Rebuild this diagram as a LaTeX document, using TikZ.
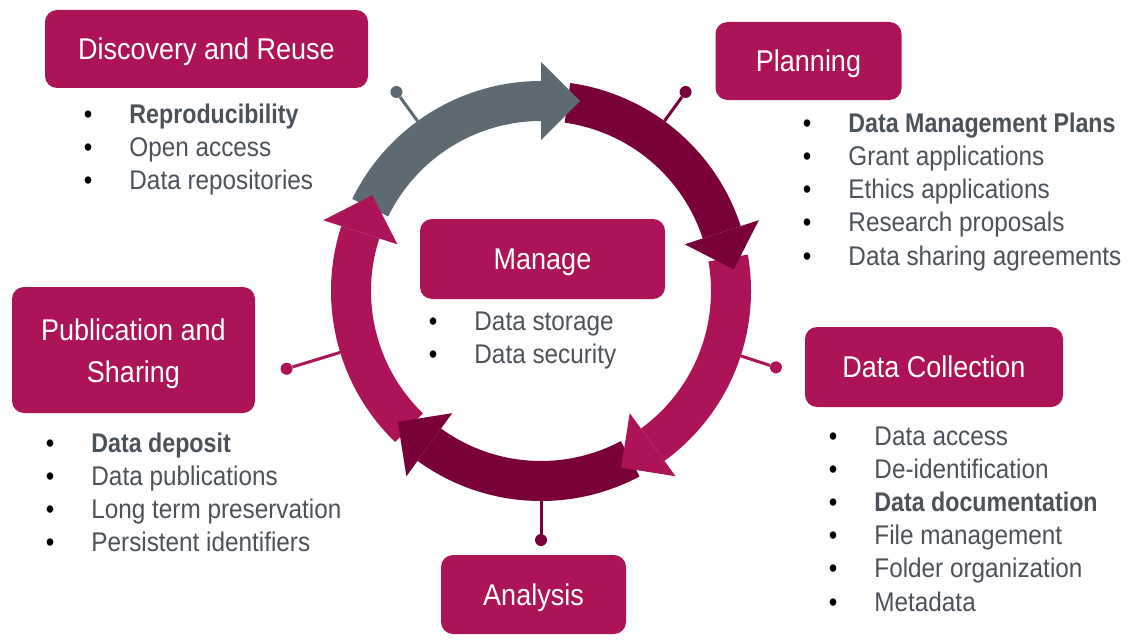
\documentclass[tikz,border=0pt]{standalone}
\usepackage{fontspec}
\setmainfont{Liberation Sans}[UprightFeatures={FakeStretch=0.9},
  BoldFeatures={FakeStretch=0.86}]

\definecolor{rdmpink}{HTML}{AD1457}
\definecolor{rdmdark}{HTML}{7A0038}
\definecolor{rdmgrey}{HTML}{5E6A71}
\definecolor{rdmtext}{HTML}{4B5259}

\tikzset{
  stage/.style={fill=rdmpink, rounded corners=12pt, text=white, inner sep=0pt,
    font=\fontsize{30}{42}\selectfont},
  onerow/.style={text height=21.5pt, text depth=0pt},
  item/.style={anchor=base west, inner sep=0pt, text=rdmtext,
    font=\fontsize{27}{33.3}\selectfont},
  pinline/.style={line width=3pt},
  pindot/.style={circle, inner sep=0pt, minimum size=12pt},
}
\newcommand{\bul}{\makebox[45.5pt][l]{\textcolor{black}{\textbullet}}}

\begin{document}
\begin{tikzpicture}[x=1pt, y=1pt]
  \useasboundingbox (0,0) rectangle (1130,-642);
  %% the cycle
  \begin{scope}[shift={(541,-291)}]
    \foreach \a/\b/\c in {154/90/rdmgrey, 82/18/rdmdark, 10/-54/rdmpink,
                          -62/-126/rdmdark, -134/-198/rdmpink} {
      \fill[\c] (\a:210) arc[start angle=\a, end angle=\b, radius=210]
        -- (\b:170) arc[start angle=\b, end angle=\a, radius=170] -- cycle;
    }
    \foreach \b/\c in {90/rdmgrey, 18/rdmdark, -54/rdmpink, -126/rdmdark, -198/rdmpink} {
      \fill[\c, rotate=\b] (151,0) -- (229,0) -- (190,-39) -- cycle;
    }
    %% pins
    \foreach \n/\ang/\r/\c in {disc/126/246/rdmgrey, plan/54/246/rdmdark,
                               coll/-18/247/rdmpink, anal/-90/249/rdmdark,
                               pub/197/266/rdmpink} {
      \coordinate (ring-\n) at (\ang:210);
      \node[pindot, fill=\c] (pin-\n) at (\ang:\r) {};
      \draw[pinline, \c] (ring-\n) -- (pin-\n);
    }
  \end{scope}

  %% stages
  \node[stage, onerow, minimum width=323pt, minimum height=78pt] (disc) at (206.5,-49) {Discovery and Reuse};
  \node[stage, onerow, minimum width=186pt, minimum height=78pt] (plan) at (808.5,-61) {Planning};
  \node[stage, onerow, minimum width=245pt, minimum height=80pt] (manage) at (542.5,-259) {Manage};
  \node[stage, onerow, minimum width=258pt, minimum height=80pt] (coll) at (934,-367) {Data Collection};
  \node[stage, onerow, minimum width=185pt, minimum height=79pt] (anal) at (533.5,-594.5) {Analysis};
  \node[stage, align=center, minimum width=243pt, minimum height=126pt] (pub) at (133.5,-350)
    {\rule{0pt}{28.3pt}Publication and\\Sharing};

  %% lists
  \foreach \t [count=\i from 0] in {{\bfseries Reproducibility}, Open access, Data repositories}
    \node[item] (disc-\i) at (83.75,{-123-33.3*\i}) {\bul\t};
  \foreach \t [count=\i from 0] in {{\bfseries Data Management Plans}, Grant applications,
      Ethics applications, Research proposals, Data sharing agreements}
    \node[item] (plan-\i) at (802.75,{-132-33.3*\i}) {\bul\t};
  \foreach \t [count=\i from 0] in {Data storage, Data security}
    \node[item] (manage-\i) at (428.75,{-330-33*\i}) {\bul\t};
  \foreach \t [count=\i from 0] in {{\bfseries Data deposit}, Data publications,
      Long term preservation, Persistent identifiers}
    \node[item] (pub-\i) at (45.75,{-452-33.3*\i}) {\bul\t};
  \foreach \t [count=\i from 0] in {Data access, De-identification, {\bfseries Data documentation},
      File management, Folder organization, Metadata}
    \node[item] (coll-\i) at (828.75,{-445-33.2*\i}) {\bul\t};
\end{tikzpicture}
\end{document}
